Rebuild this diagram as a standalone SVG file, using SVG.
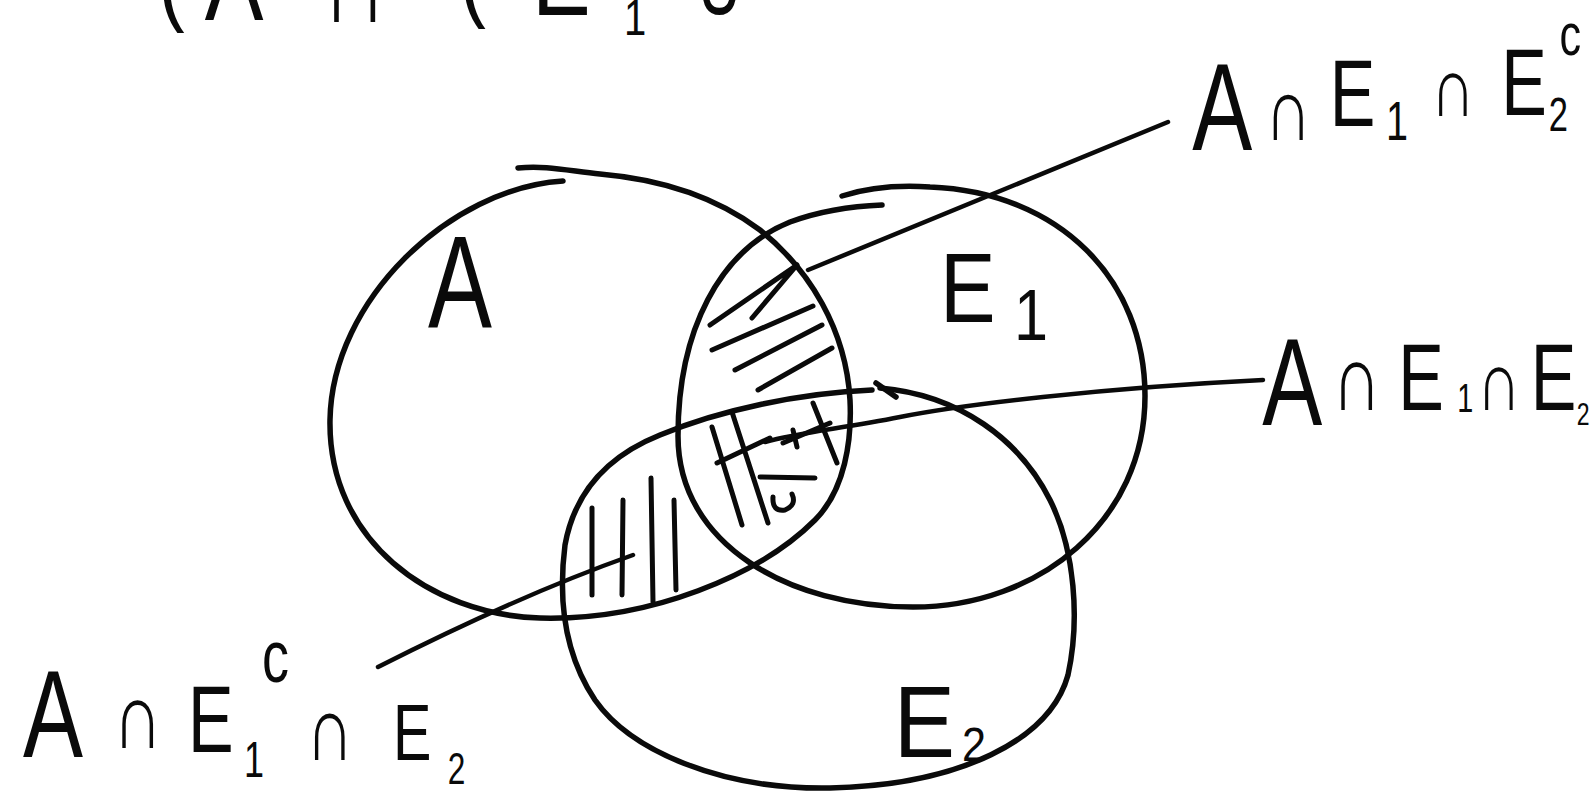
<svg xmlns="http://www.w3.org/2000/svg" width="1591" height="792" viewBox="0 0 1591 792">
<style>
.ink{fill:none;stroke:#0a0a0a;stroke-width:5.5;stroke-linecap:round;stroke-linejoin:round}
.hatch{fill:none;stroke:#0a0a0a;stroke-width:5;stroke-linecap:round;stroke-linejoin:round}
.lead{fill:none;stroke:#0a0a0a;stroke-width:4.5;stroke-linecap:round;stroke-linejoin:round}
text{font-family:"Liberation Sans",Arial,sans-serif;fill:#0a0a0a}
</style>
<rect width="1591" height="792" fill="#ffffff"/>

<g id="top-equation">
<text transform="scale(0.8,1)"><tspan x="197.5" y="12" font-size="100">(</tspan><tspan x="256" y="20" font-size="110">A</tspan><tspan x="402" y="22" font-size="115">∩</tspan><tspan x="574" y="8" font-size="100">(</tspan><tspan x="665" y="15" font-size="110">E</tspan><tspan x="780" y="35" font-size="50">1</tspan><tspan x="866" y="15" font-size="90">∪</tspan></text>
</g>

<g id="set-A">
<path class="ink" d="M563 181 C450 188 332 300 330 420 C328 540 430 615 540 618 C650 621 760 575 815 520 C845 490 852 440 850 400 C846 330 810 270 760 230 C720 200 670 180 600 174 C570 171 545 165 518 168"/>
<text x="428" y="328" font-size="132" textLength="64" lengthAdjust="spacingAndGlyphs">A</text>
</g>

<g id="set-E1">
<path class="ink" d="M842 196 C870 187 900 185 930 187 C1060 192 1145 280 1145 396 C1145 520 1040 607 913 607 C790 607 678 545 678 436 C678 330 720 250 790 222 C820 211 855 206 882 205"/>
<text transform="scale(0.85,1)"><tspan x="1106" y="322" font-size="98">E</tspan><tspan x="1193" y="340" font-size="72">1</tspan></text>
</g>

<g id="set-E2">
<path class="ink" d="M880 388 C960 395 1020 440 1050 500 C1075 550 1080 620 1068 675 C1050 740 960 785 830 788 C720 790 630 750 595 700 C565 655 558 600 565 545 C575 490 610 455 660 435 C720 410 800 393 872 390"/>
<path class="ink" d="M876 383 L896 397" stroke-width="8"/>
<text transform="scale(0.9,1)"><tspan x="993" y="757" font-size="102">E</tspan><tspan x="1069" y="761" font-size="48">2</tspan></text>
</g>

<g id="hatching">
<path class="hatch" d="M710 325 L797 265 M797 265 L752 318 M712 350 L813 306 M735 370 L822 325 M758 390 L832 348"/>
<path class="hatch" d="M712 427 L742 525 M732 412 L768 523 M813 403 L837 463 M717 463 L770 438 M760 477 L815 478 M783 443 L830 423 M793 430 L797 447 M773 497 Q772 512 785 510 Q797 505 792 494"/>
<path class="hatch" d="M592 508 L592 595 M623 500 L622 595 M651 478 L653 602 M674 500 L676 590"/>
</g>

<g id="connectors">
<path class="lead" d="M1168 122 L808 270"/>
<path class="lead" d="M1263 380 C1100 388 960 405 900 417 S800 432 765 442"/>
<path class="lead" d="M378 667 Q520 595 633 555"/>
</g>

<g id="label-A-E1-E2c">
<text transform="scale(0.72,1)"><tspan x="1656" y="150" font-size="125">A</tspan><tspan x="1757" y="140" font-size="90">∩</tspan><tspan x="1847" y="126" font-size="95">E</tspan><tspan x="1925" y="140" font-size="55">1</tspan><tspan x="1987" y="116" font-size="85">∩</tspan><tspan x="2085" y="115" font-size="95">E</tspan><tspan x="2151" y="131" font-size="48">2</tspan><tspan x="2166" y="55" font-size="60">c</tspan></text>
</g>

<g id="label-A-E1-E2">
<text transform="scale(0.72,1)"><tspan x="1753" y="425" font-size="125">A</tspan><tspan x="1850" y="410" font-size="95">∩</tspan><tspan x="1942" y="410" font-size="95">E</tspan><tspan x="2024" y="412" font-size="40">1</tspan><tspan x="2051" y="410" font-size="85">∩</tspan><tspan x="2126" y="410" font-size="95">E</tspan><tspan x="2190" y="425" font-size="32">2</tspan></text>
</g>

<g id="label-A-E1c-E2">
<text transform="scale(0.72,1)"><tspan x="32" y="757" font-size="125">A</tspan><tspan x="157" y="748" font-size="95">∩</tspan><tspan x="261" y="752" font-size="95">E</tspan><tspan x="339" y="777" font-size="50">1</tspan><tspan x="364" y="682" font-size="75">c</tspan><tspan x="425" y="760" font-size="92">∩</tspan><tspan x="546" y="760" font-size="80">E</tspan><tspan x="622" y="784" font-size="44">2</tspan></text>
</g>
</svg>
